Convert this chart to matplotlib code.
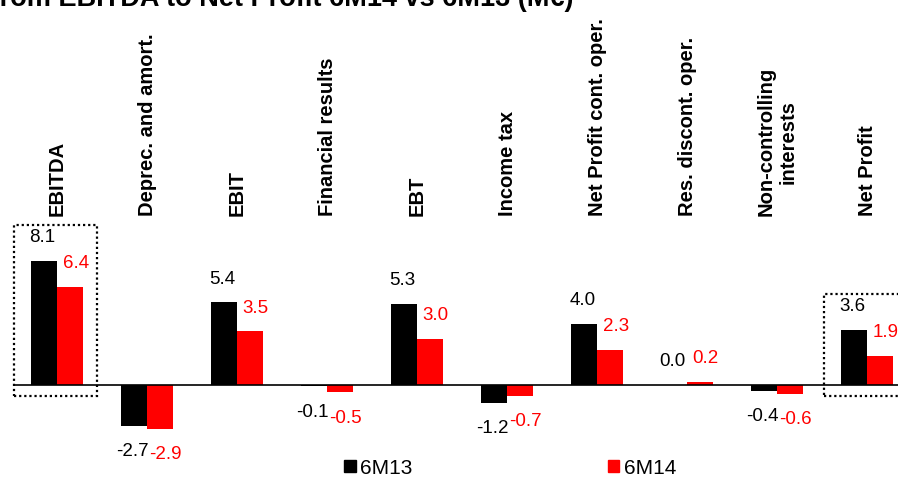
import matplotlib
matplotlib.use("Agg")
import matplotlib.pyplot as plt
from matplotlib.patches import Rectangle, Patch
import numpy as np

plt.rcParams["font.family"] = ["Liberation Sans", "DejaVu Sans"]

# P&L bridge, M€
categories = ["EBITDA", "Deprec. and amort.", "EBIT", "Financial results", "EBT",
              "Income tax", "Net Profit cont. oper.", "Res. discont. oper.",
              "Non-controlling\ninterests", "Net Profit"]
v_6m13 = [8.1, -2.7, 5.4, -0.1, 5.3, -1.2, 4.0, 0.0, -0.4, 3.6]
v_6m14 = [6.4, -2.9, 3.5, -0.5, 3.0, -0.7, 2.3, 0.2, -0.6, 1.9]
series_names = ["6M13", "6M14"]
title = "From EBITDA to Net Profit 6M14 vs 6M13 (M€)"

W, H = 898, 478
fig = plt.figure(figsize=(W / 100, H / 100), dpi=100)
ax = fig.add_axes([13 / W, 32 / H, 885 / W, 229.5 / H])

x = np.arange(len(categories))
w = 0.289
ax.bar(x - w / 2, v_6m13, w, color="black")
ax.bar(x + w / 2, v_6m14, w, color="#ff0000")
ax.axhline(0, color="black", lw=1.2)

ax.set_xlim(-0.489, 9.344)
ax.set_ylim(-4, 11)
ax.axis("off")

# value labels
for xi, a, b in zip(x, v_6m13, v_6m14):
    for xv, val, col, dx in ((xi - w / 2, a, "black", -1), (xi + w / 2, b, "#ff0000", 4)):
        off = 16.5 if val >= 0 else -18.5
        ax.annotate(f"{val:.1f}", (xv, val), xytext=(dx, off), textcoords="offset points",
                    ha="center", va="center", fontsize=13.5, color=col)

# rotated category headers
for xi, name in zip(x, categories):
    ax.text(xi, 11.0, name, rotation=90, ha="center", va="bottom",
            fontsize=14.5, fontweight="bold", multialignment="center", clip_on=False)

# dotted frames around EBITDA and Net Profit
for x0, x1, top in ((-0.478, 0.444, 10.46), (8.52, 9.6, 5.95)):
    ax.add_patch(Rectangle((x0, -0.72), x1 - x0, top + 0.72, fill=False,
                           ls=(0, (1, 1.3)), lw=1.6, ec="black", clip_on=False))

handles = [Patch(color="black"), Patch(color="#ff0000")]
fig.legend(handles, series_names, loc="center", bbox_to_anchor=(510 / W, 1 - 468 / H),
           ncol=2, frameon=False, fontsize=15, handlelength=0.55, handleheight=0.55,
           handletextpad=0.2, columnspacing=9.4)

fig.text(-17 / W, 1 - 6 / H, title, ha="left", va="baseline", fontsize=19.5, fontweight="bold")

fig.savefig("out.png", dpi=100)
